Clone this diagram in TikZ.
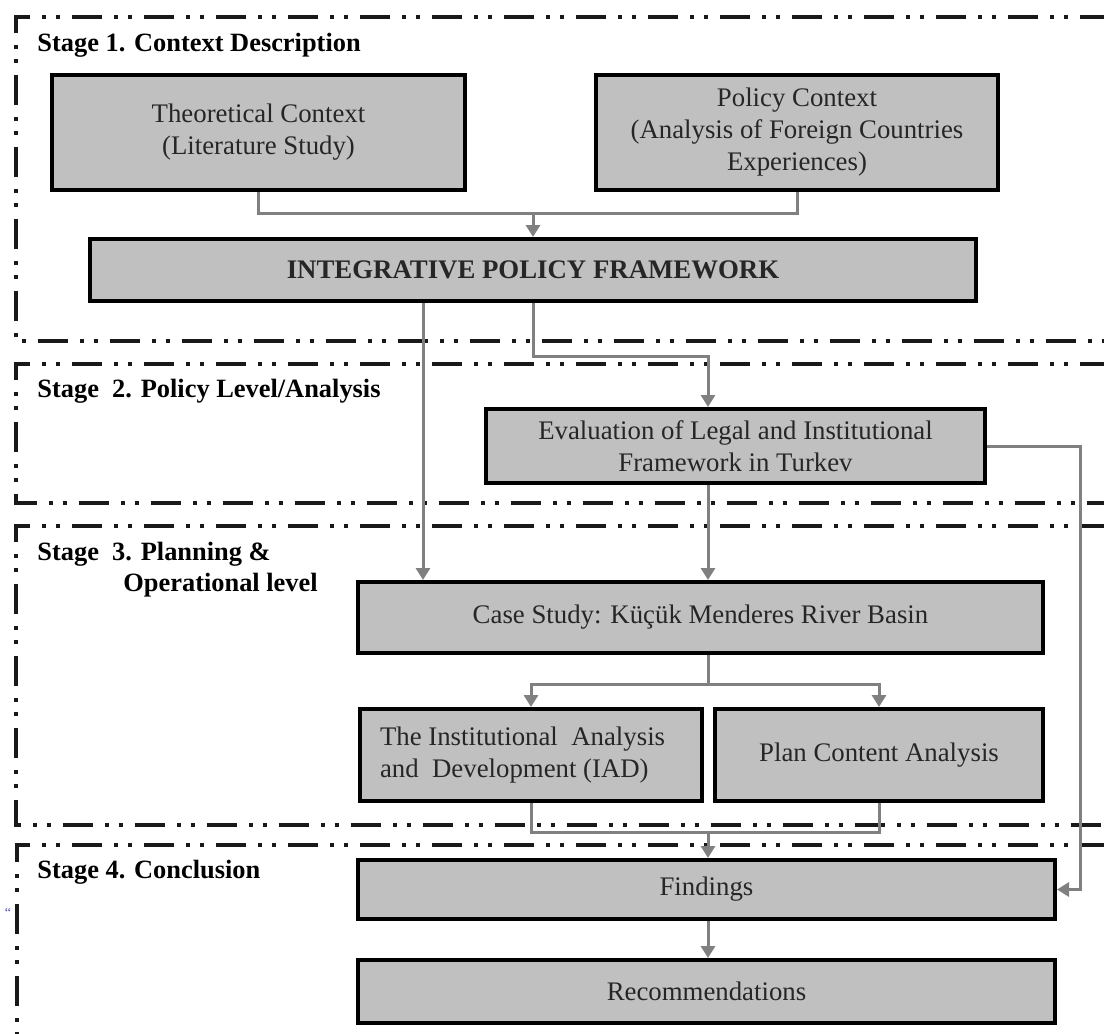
\documentclass[tikz,border=0pt]{standalone}
\usepackage{fontspec}
\setmainfont{Liberation Serif}
\usetikzlibrary{arrows.meta,positioning,calc}
\definecolor{boxgray}{RGB}{192,192,192}
\definecolor{linkgray}{RGB}{128,128,128}

\begin{document}
\begin{tikzpicture}[
    x=0.5pt, y=-0.5pt,
    box/.style={draw=black, line width=2pt, fill=boxgray, align=center, inner sep=0pt, text=black!85, font=\fontsize{13.4}{16}\selectfont},
    stagelabel/.style={anchor=west, align=left, inner sep=0pt, font=\bfseries\fontsize{13.2}{15.5}\selectfont},
    stageframe/.style={draw=black!90, line width=1.8pt, dash pattern=on 15pt off 6pt on 2pt off 5pt on 2pt off 6pt},
    conn/.style={draw=linkgray, line width=1.5pt},
    arrow/.style={conn, -{Triangle[length=6pt, width=7pt]}}
]
\useasboundingbox (0,0) rectangle (1104,1034);
\clip (0,0) rectangle (1104,1034);

\draw[stageframe] (1110,17) -- (16,17) -- (16,341) -- (1110,341);
\draw[stageframe] (1110,364) -- (16,364) -- (16,503) -- (1110,503);
\draw[stageframe] (1110,526) -- (16,526) -- (16,825) -- (1110,825);
\draw[stageframe] (1110,845) -- (17,845) -- (17,1040);

\node[stagelabel] (s1) at (37,45) {Stage 1. Context Description};
\node[stagelabel] (s2) at (37,391) {Stage\ \ 2. Policy Level/Analysis};
\node[stagelabel] (s3) at (37,570) {Stage\ \ 3. Planning \&\\\hspace*{43pt}Operational level};
\node[stagelabel] (s4) at (37,872) {Stage 4. Conclusion};
\node[inner sep=0pt, font=\scriptsize, text=blue!40!gray] (mark) at (8,913) {\textquotedblleft};

\node[box, minimum width=206.5pt, minimum height=57.5pt] (theo) at (258.5,132.5) {Theoretical Context\\(Literature Study)};
\node[box, minimum width=201pt, minimum height=57.5pt] (polctx) at (797,132.5) {Policy Context\\(Analysis of Foreign Countries\\Experiences)};
\node[box, minimum width=443pt, minimum height=31pt, font=\bfseries\fontsize{13.4}{16}\selectfont] (ipf) at (533,270) {INTEGRATIVE POLICY FRAMEWORK};
\node[box, minimum width=249.5pt, minimum height=37pt] (evalf) at (735.5,446) {Evaluation of Legal and Institutional\\Framework in Turkev};
\node[box, minimum width=342.5pt, minimum height=35.5pt] (cases) at (700.5,617.5) {Case Study: Küçük Menderes River Basin};
\node[box, minimum width=171pt, minimum height=46pt, align=flush left, text width=151pt] (iad) at (531,755) {The Institutional\ \ Analysis\\and\ \ Development (IAD)};
\node[box, minimum width=164pt, minimum height=46pt] (plan) at (879,755) {Plan Content Analysis};
\node[box, minimum width=348.5pt, minimum height=29.5pt] (find) at (706.5,889.5) {Findings};
\node[box, minimum width=348.5pt, minimum height=31.5pt] (recom) at (706.5,991.5) {Recommendations};

\coordinate (j1) at (533,213);
\coordinate (j2) at (708,356);
\coordinate (j3) at (708,684);
\coordinate (j4) at (708,832);
\coordinate (rt) at (1080,443);

\draw[conn] (theo.south) |- (j1) -| (polctx.south);
\draw[arrow] (j1) -- (ipf.north);
\draw[arrow] ([xshift=-55pt]ipf.south) -- ([xshift=-55pt]ipf.south |- cases.north);
\draw[arrow] (ipf.south) |- (j2) -- (j2 |- evalf.north);
\draw[arrow] (evalf.east) -| (rt |- find.east) -- (find.east);
\draw[arrow] (j2 |- evalf.south) -- (j2 |- cases.north);
\draw[conn] (j2 |- cases.south) -- (j3);
\draw[arrow] (j3) -| (iad.north);
\draw[arrow] (j3) -| (plan.north);
\draw[conn] (iad.south) |- (j4) -| (plan.south);
\draw[arrow] (j4) -- (j4 |- find.north);
\draw[arrow] (j4 |- find.south) -- (j4 |- recom.north);
\end{tikzpicture}
\end{document}
